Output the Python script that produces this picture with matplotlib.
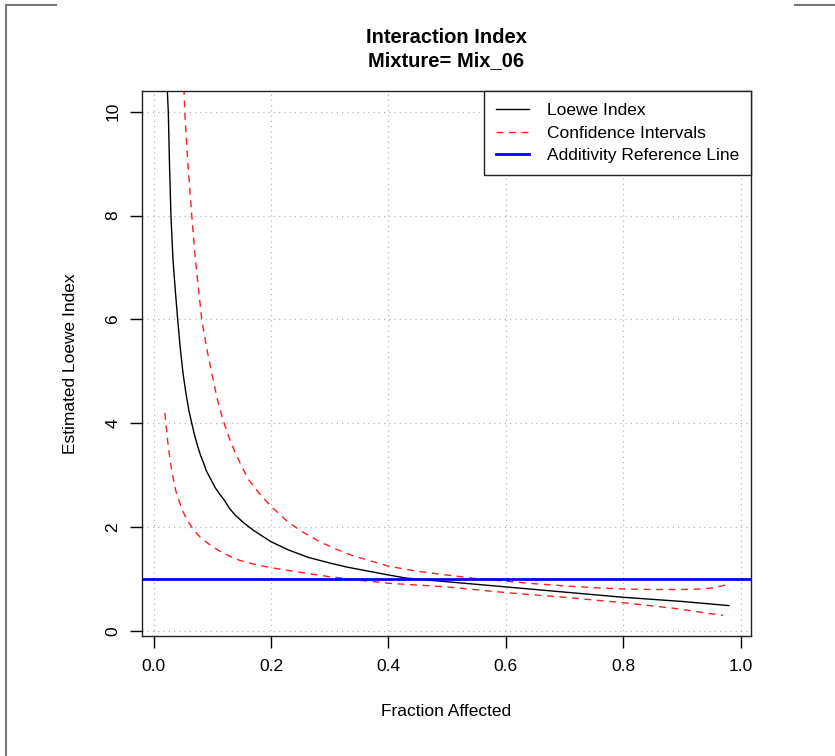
import matplotlib
matplotlib.use('Agg')
import matplotlib.pyplot as plt
from matplotlib.lines import Line2D

plt.rcParams['font.family'] = ['Liberation Sans', 'DejaVu Sans']

# values
fa_loewe = [0.0225, 0.025, 0.027, 0.0295, 0.033, 0.037, 0.041, 0.045, 0.050, 0.055,
            0.060, 0.065, 0.070, 0.075, 0.080, 0.085, 0.090, 0.098, 0.105, 0.113,
            0.121, 0.130, 0.140, 0.155, 0.170, 0.185, 0.200, 0.230, 0.263, 0.300,
            0.330, 0.400, 0.430, 0.499, 0.600, 0.700, 0.800, 0.900, 0.980]
loewe = [10.6, 10.0, 9.0, 8.0, 7.15, 6.55, 6.0, 5.49, 4.97, 4.58,
         4.25, 4.0, 3.76, 3.56, 3.38, 3.24, 3.08, 2.91, 2.76, 2.63,
         2.51, 2.35, 2.22, 2.07, 1.94, 1.83, 1.72, 1.56, 1.42, 1.31,
         1.23, 1.08, 1.02, 0.95, 0.85, 0.75, 0.65, 0.57, 0.49]

fa_upper = [0.051, 0.053, 0.058, 0.065, 0.070, 0.075, 0.082, 0.090, 0.099, 0.108,
            0.118, 0.130, 0.140, 0.150, 0.162, 0.180, 0.200, 0.229, 0.255, 0.283,
            0.310, 0.337, 0.370, 0.400, 0.450, 0.499, 0.550, 0.600, 0.650, 0.700,
            0.750, 0.800, 0.850, 0.900, 0.930, 0.953, 0.976]
upper = [10.7, 10.0, 9.06, 8.0, 7.3, 6.74, 6.0, 5.47, 4.97, 4.49,
         4.07, 3.68, 3.41, 3.17, 2.91, 2.65, 2.4, 2.1, 1.9, 1.72,
         1.58, 1.46, 1.35, 1.25, 1.15, 1.08, 1.01, 0.96, 0.91, 0.87,
         0.835, 0.81, 0.80, 0.80, 0.81, 0.83, 0.89]

fa_lower = [0.019, 0.021, 0.024, 0.028, 0.031, 0.035, 0.038, 0.042, 0.046, 0.050,
            0.057, 0.065, 0.072, 0.080, 0.090, 0.101, 0.114, 0.130, 0.147, 0.170,
            0.200, 0.250, 0.297, 0.350, 0.400, 0.450, 0.499, 0.600, 0.700, 0.800,
            0.885, 0.970]
lower = [4.2, 4.0, 3.65, 3.3, 3.08, 2.85, 2.69, 2.55, 2.42, 2.3,
         2.14, 2.0, 1.9, 1.8, 1.71, 1.62, 1.53, 1.44, 1.36, 1.29,
         1.22, 1.13, 1.05, 0.98, 0.92, 0.885, 0.85, 0.74, 0.65, 0.545,
         0.44, 0.30]

additivity = 1.0
x_ticks = [0.0, 0.2, 0.4, 0.6, 0.8, 1.0]
y_ticks = [0, 2, 4, 6, 8, 10]

fig = plt.figure(figsize=(8.35, 7.56), dpi=100)
ax = fig.add_axes([0.170, 0.1587, 0.7294, 0.7209])

# R style dotted grid
for xv in x_ticks:
    ax.axvline(xv, color='#b5b5b5', lw=0.9, dashes=(1, 3.2), zorder=0)
for yv in y_ticks:
    ax.axhline(yv, color='#b5b5b5', lw=0.9, dashes=(1, 3.2), zorder=0)

ax.plot(fa_loewe, loewe, color='black', lw=1.0, label='Loewe Index')
ax.plot(fa_upper, upper, color='#ff2020', lw=1.0, dashes=(5, 4), label='Confidence Intervals')
ax.plot(fa_lower, lower, color='#ff2020', lw=1.0, dashes=(5, 4))
ax.axhline(additivity, color='#0000ff', lw=2.0, label='Additivity Reference Line')

ax.set_xlim(-0.0199, 1.0177)
ax.set_ylim(-0.096, 10.40)
ax.set_xticks(x_ticks)
ax.set_xticklabels(['0.0', '0.2', '0.4', '0.6', '0.8', '1.0'])
ax.set_yticks(y_ticks)
ax.set_yticklabels([str(v) for v in y_ticks])
ax.tick_params(direction='out', length=8.5, width=1, labelsize=12.5, pad=8, colors='black')
ax.tick_params(axis='y', labelrotation=90, pad=7)
for lab in ax.get_yticklabels():
    lab.set_va('center')

for sp in ax.spines.values():
    sp.set_linewidth(1.0)
    sp.set_color('#222222')

ax.set_xlabel('Fraction Affected', fontsize=12.5)
ax.set_ylabel('Estimated Loewe Index', fontsize=12.5)
ax.xaxis.label.set_va('center')
ax.yaxis.label.set_va('center')
ax.xaxis.set_label_coords(0.5, -0.1394)
ax.yaxis.set_label_coords(-0.118, 0.5)

ax.set_title('Interaction Index\nMixture= Mix_06', fontsize=14.5, fontweight='bold',
             linespacing=1.25, pad=18)

leg = ax.legend(loc='upper right', bbox_to_anchor=(1, 1), borderaxespad=0,
                fontsize=12.5, fancybox=False, framealpha=1, edgecolor='#222222',
                handlelength=1.9, handletextpad=1.0, labelspacing=0.42,
                borderpad=0.7)
leg.get_frame().set_linewidth(1.0)

# page border from the screenshot
fig.add_artist(Line2D([6 / 835, 6 / 835], [0, 1 - 5 / 756], transform=fig.transFigure,
                      color='#777777', lw=1.5))
fig.add_artist(Line2D([6 / 835, 56 / 835], [1 - 5 / 756, 1 - 5 / 756],
                      transform=fig.transFigure, color='#777777', lw=1.5))
fig.add_artist(Line2D([795 / 835, 1], [1 - 5 / 756, 1 - 5 / 756],
                      transform=fig.transFigure, color='#777777', lw=1.5))

fig.savefig('out.png', dpi=100)
